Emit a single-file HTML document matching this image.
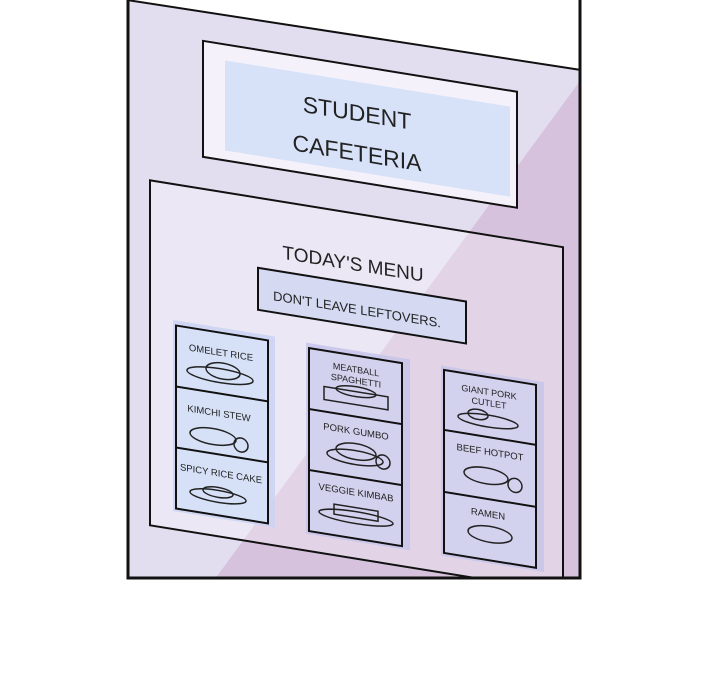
<!DOCTYPE html>
<html><head><meta charset="utf-8"><style>
html,body{margin:0;padding:0;background:#fff;width:720px;height:700px;overflow:hidden}
text{font-family:"Liberation Sans",sans-serif;fill:#222}
</style></head><body>
<svg width="720" height="700" viewBox="0 0 720 700" xmlns="http://www.w3.org/2000/svg">
<defs><clipPath id="pc"><rect x="127" y="0" width="454" height="579"/></clipPath></defs>
<g clip-path="url(#pc)">
<rect x="127" y="0" width="454" height="579" fill="#e2ddef"/>
<polygon points="610,40 610,579 215,579" fill="#d6c2dc"/>
<polygon points="127,0 581,0 581,70 127,0" fill="#fff"/>
<g transform="matrix(1,0.162,0,1,0,0)">
 <rect x="203" y="8" width="314" height="116" fill="#f4f1fa" stroke="#111" stroke-width="2"/>
 <rect x="225" y="24" width="285" height="90" fill="#d4e0f8" opacity="0.9"/>
 <text x="357" y="63" font-size="23" text-anchor="middle">STUDENT</text>
 <text x="357" y="103" font-size="23" text-anchor="middle">CAFETERIA</text>
 <rect x="150" y="156" width="413" height="345" fill="#fff" fill-opacity="0.3" stroke="#111" stroke-width="2"/>
 <text x="353" y="213" font-size="19" text-anchor="middle">TODAY'S MENU</text>
 <rect x="258" y="226" width="208" height="42" fill="#d5daf2" stroke="#111" stroke-width="2"/>
 <text x="357" y="256" font-size="13" text-anchor="middle">DON'T LEAVE LEFTOVERS.</text>
 <g>
  <rect x="173" y="292" width="102" height="191" fill="#c8d2f2" opacity="0.8"/>
  <rect x="176" y="297" width="92" height="183" fill="#d6e1f7" stroke="#111" stroke-width="2"/>
  <line x1="176" y1="358" x2="268" y2="358" stroke="#111" stroke-width="2"/>
  <line x1="176" y1="419" x2="268" y2="419" stroke="#111" stroke-width="2"/>
  <text x="221" y="320" font-size="9.5" text-anchor="middle">OMELET RICE</text>
  <text x="219" y="381" font-size="9.5" text-anchor="middle">KIMCHI STEW</text>
  <text x="221" y="441" font-size="9.5" text-anchor="middle">SPICY RICE CAKE</text>
  <g fill="none" stroke="#222" stroke-width="1.5">
   <ellipse cx="220" cy="340" rx="33" ry="7"/><ellipse cx="223" cy="335" rx="17" ry="8"/>
   <ellipse cx="213" cy="402" rx="23" ry="8"/><circle cx="241" cy="406" r="7"/>
   <ellipse cx="218" cy="461" rx="28" ry="6"/><ellipse cx="218" cy="457" rx="15" ry="5"/>
  </g>
 </g>
 <g>
  <rect x="306" y="293" width="104" height="191" fill="#c4c3ea" opacity="0.8"/>
  <rect x="309" y="298" width="93" height="183" fill="#d3d2ee" stroke="#111" stroke-width="2"/>
  <line x1="309" y1="359" x2="402" y2="359" stroke="#111" stroke-width="2"/>
  <line x1="309" y1="420" x2="402" y2="420" stroke="#111" stroke-width="2"/>
  <text x="356" y="315" font-size="9" text-anchor="middle">MEATBALL</text>
  <text x="356" y="326" font-size="9" text-anchor="middle">SPAGHETTI</text>
  <text x="356" y="377" font-size="9.5" text-anchor="middle">PORK GUMBO</text>
  <text x="356" y="438" font-size="9.5" text-anchor="middle">VEGGIE KIMBAB</text>
  <g fill="none" stroke="#222" stroke-width="1.5">
   <rect x="324" y="334" width="64" height="13"/><ellipse cx="356" cy="334" rx="20" ry="5"/>
   <ellipse cx="355" cy="400" rx="28" ry="7"/><ellipse cx="356" cy="394" rx="20" ry="8"/><circle cx="383" cy="400" r="7"/>
   <ellipse cx="356" cy="460" rx="37" ry="6"/><rect x="334" y="450" width="44" height="10"/>
  </g>
 </g>
 <g>
  <rect x="441" y="294" width="103" height="190" fill="#c4c3ea" opacity="0.8"/>
  <rect x="444" y="298" width="92" height="183" fill="#d3d2ee" stroke="#111" stroke-width="2"/>
  <line x1="444" y1="358" x2="536" y2="358" stroke="#111" stroke-width="2"/>
  <line x1="444" y1="420" x2="536" y2="420" stroke="#111" stroke-width="2"/>
  <text x="489" y="316" font-size="9" text-anchor="middle">GIANT PORK</text>
  <text x="489" y="327" font-size="9" text-anchor="middle">CUTLET</text>
  <text x="490" y="376" font-size="9.5" text-anchor="middle">BEEF HOTPOT</text>
  <text x="488" y="438" font-size="9.5" text-anchor="middle">RAMEN</text>
  <g fill="none" stroke="#222" stroke-width="1.5">
   <ellipse cx="488" cy="342" rx="30" ry="6"/><ellipse cx="478" cy="337" rx="10" ry="5"/>
   <ellipse cx="486" cy="397" rx="22" ry="8"/><circle cx="515" cy="402" r="7"/>
   <ellipse cx="490" cy="455" rx="22" ry="8"/>
  </g>
 </g>
</g>
</g>
<line x1="127" y1="0" x2="581" y2="70" stroke="#111" stroke-width="2"/>
<rect x="128" y="-5" width="452" height="583" fill="none" stroke="#111" stroke-width="3"/>
</svg>
</body></html>
